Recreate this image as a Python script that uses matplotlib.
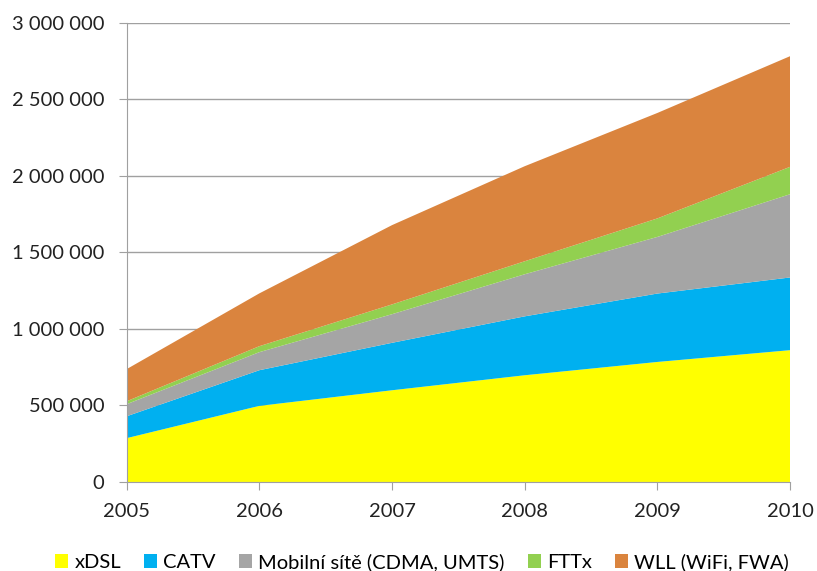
import numpy as np
import matplotlib.pyplot as plt
from matplotlib.ticker import FuncFormatter

plt.rcParams['font.family'] = ['Lato', 'DejaVu Sans']

years = [2005, 2006, 2007, 2008, 2009, 2010]
labels = ['xDSL', 'CATV', 'Mobilní sítě (CDMA, UMTS)', 'FTTx', 'WLL (WiFi, FWA)']
xdsl = [286000, 497000, 599000, 697000, 784000, 861000]
catv = [143000, 233000, 310000, 385000, 447000, 475000]
mobil = [79000, 118000, 187000, 275000, 370000, 544000]
fttx = [19000, 39000, 64000, 85000, 121000, 179000]
wll = [210000, 345000, 518000, 621000, 689000, 723000]
colors = ['#FFFF00', '#00B0F0', '#A5A5A5', '#92D050', '#DA843E']

fig = plt.figure(figsize=(8.17, 5.71), dpi=100)
ax = fig.add_axes([0.155, 0.156, 0.812, 0.804])

ax.stackplot(years, xdsl, catv, mobil, fttx, wll, colors=colors, labels=labels, zorder=2)

ax.set_xlim(2005, 2010)
ax.set_ylim(0, 3000000)
ax.set_yticks(np.arange(0, 3000001, 500000))
ax.set_xticks(years)
ax.yaxis.set_major_formatter(FuncFormatter(lambda v, p: '{:,}'.format(int(v)).replace(',', ' ')))
ax.grid(axis='y', color='#A0A0A0', lw=1, zorder=1)
for s in ['top', 'right']:
    ax.spines[s].set_visible(False)
for s in ['left', 'bottom']:
    ax.spines[s].set_color('#A0A0A0')
    ax.spines[s].set_zorder(3)
ax.tick_params(axis='both', colors='#A0A0A0', labelcolor='#222222', labelsize=14.5, length=6)
ax.tick_params(axis='x', pad=9)
ax.tick_params(axis='y', pad=10)

# legende pod grafem
leg = ax.legend(loc='center', bbox_to_anchor=(0.445, -0.1745), ncol=5, frameon=False,
                fontsize=14.5, handlelength=0.65, handleheight=0.65, handletextpad=0.3,
                columnspacing=1.15, borderaxespad=0, borderpad=0)

fig.savefig('out.png')
